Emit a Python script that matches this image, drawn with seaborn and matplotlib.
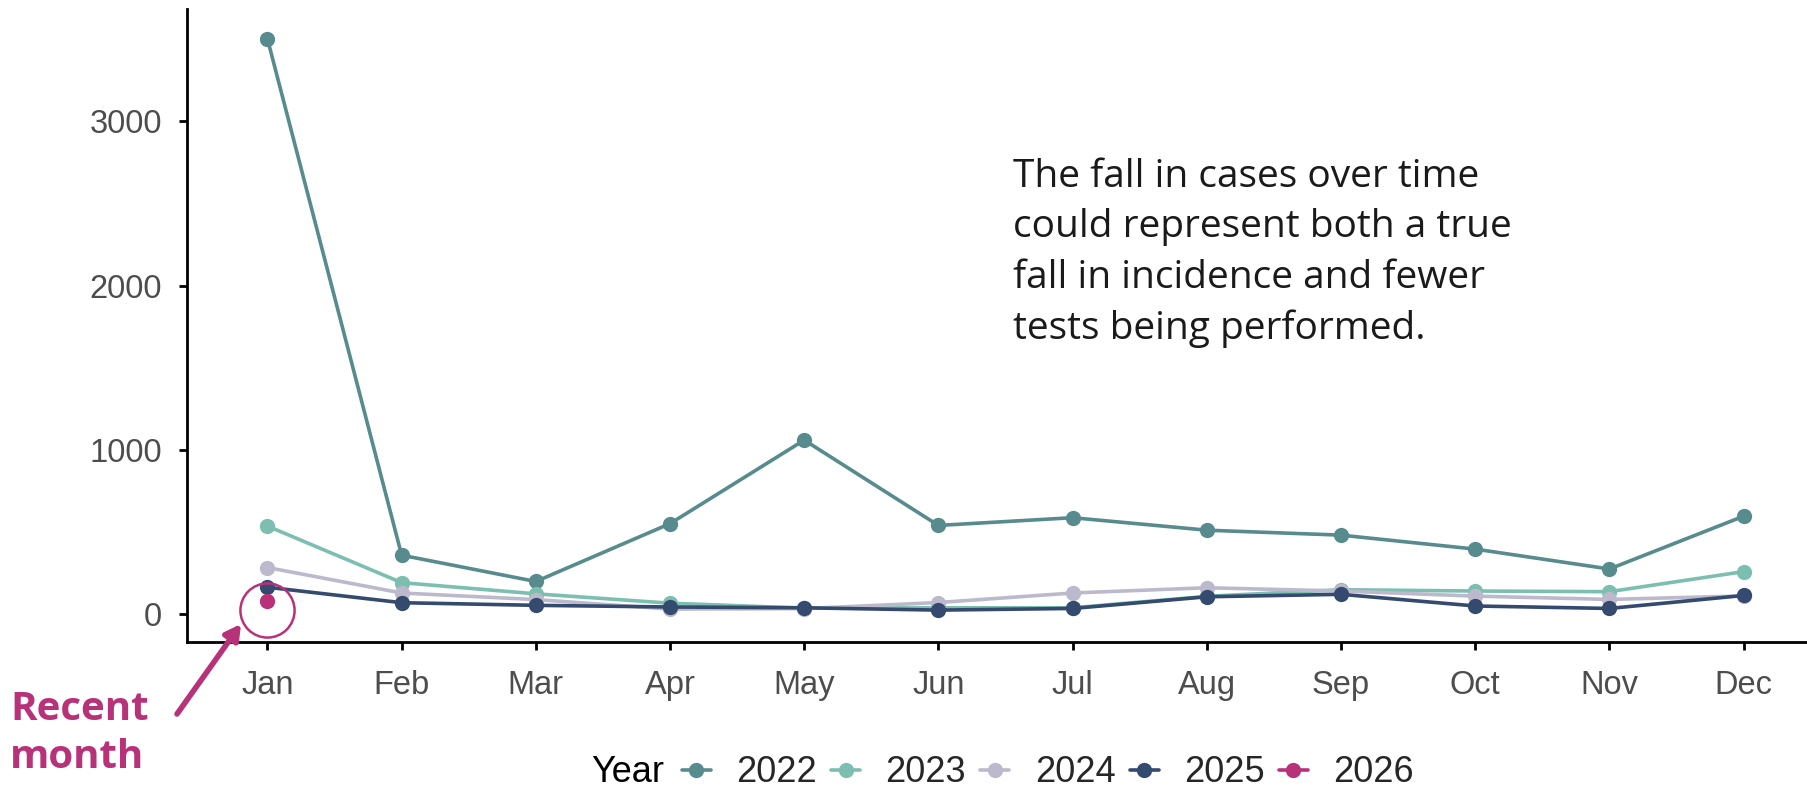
import matplotlib
matplotlib.use("Agg")
import matplotlib.pyplot as plt
import matplotlib.transforms as mtransforms
import seaborn as sns
import pandas as pd

# Monthly case counts
months = ['Jan', 'Feb', 'Mar', 'Apr', 'May', 'Jun', 'Jul', 'Aug', 'Sep', 'Oct', 'Nov', 'Dec']
cases_2022 = [3500, 360, 200, 552, 1060, 541, 588, 512, 482, 397, 276, 597]
cases_2023 = [537, 193, 125, 68, 38, 40, 40, 110, 150, 142, 138, 260]
cases_2024 = [285, 130, 90, 32, 35, 72, 130, 162, 142, 111, 91, 112]
cases_2025 = [165, 71, 55, 45, 40, 26, 36, 107, 122, 51, 36, 115]
cases_2026 = [80]

years = ['2022', '2023', '2024', '2025', '2026']
colours = ['#578b8d', '#7cbfb1', '#bdb9cd', '#344a6f', '#b8327a']
accent = '#b8327a'

series = [cases_2022, cases_2023, cases_2024, cases_2025, cases_2026]
rows = []
for year, vals in zip(years, series):
    for m, v in zip(months, vals):
        rows.append({'month': m, 'cases': v, 'Year': year})
df = pd.DataFrame(rows)
df['month'] = pd.Categorical(df['month'], categories=months, ordered=True)
df['pos'] = df['month'].cat.codes

sns.set_style('ticks')
plt.rcParams['font.family'] = ['Liberation Sans', 'DejaVu Sans']

fig = plt.figure(figsize=(18.08, 7.92), dpi=100)
ax = fig.add_axes([0.1034, 0.1894, 0.8966, 0.7992])

sns.lineplot(data=df, x='pos', y='cases', hue='Year', hue_order=years,
             palette=dict(zip(years, colours)), marker='o', markersize=11,
             markeredgewidth=0, linewidth=2.6, ax=ax, legend=False)

ax.set_xlim(-0.6, 11.48)
ax.set_ylim(-168, 3682)
ax.set_xticks(range(len(months)))
ax.set_xticklabels(months)
ax.set_yticks([0, 1000, 2000, 3000])
ax.set_xlabel('')
ax.set_ylabel('')
for side in ['top', 'right']:
    ax.spines[side].set_visible(False)
for side in ['left', 'bottom']:
    ax.spines[side].set_linewidth(2.0)
    ax.spines[side].set_color('black')
ax.tick_params(axis='both', length=6, width=2.0, color='black',
               labelsize=23.5, labelcolor='#4d4d4d')
ax.tick_params(axis='y', pad=12)
ax.tick_params(axis='x', pad=14)

# Circle around the most recent month
jan_pos = df.loc[df['Year'] == '2026', 'pos'].iloc[0]
jan_val = df.loc[df['Year'] == '2026', 'cases'].iloc[0]
shift = mtransforms.offset_copy(ax.transData, fig=fig, x=0, y=-6, units='points')
ax.plot([jan_pos], [jan_val], marker='o', markersize=39, fillstyle='none',
        markeredgecolor=accent, markeredgewidth=1.8, transform=shift, clip_on=False)

# Arrow and label
ax.annotate('', xy=(241 / 1808, 1 - 624 / 792), xycoords='figure fraction',
            xytext=(177 / 1808, 1 - 714 / 792), textcoords='figure fraction',
            arrowprops=dict(arrowstyle='-|>,head_length=0.9,head_width=0.5',
                            color=accent, lw=4, shrinkA=0, shrinkB=0))
fig.text(10 / 1808, 1 - 709 / 792, 'Recent', color=accent, fontsize=29,
         fontweight='bold', va='center', ha='left', family=['Open Sans', 'DejaVu Sans'])
fig.text(10 / 1808, 1 - 758 / 792, 'month', color=accent, fontsize=29,
         fontweight='bold', va='center', ha='left', family=['Open Sans', 'DejaVu Sans'])

# Commentary
note = ('The fall in cases over time\n'
        'could represent both a true\n'
        'fall in incidence and fewer\n'
        'tests being performed.')
fig.text(1013 / 1808, 1 - 158 / 792, note, color='#1a1a1a', fontsize=28,
         va='top', ha='left', linespacing=1.43, family=['Open Sans', 'DejaVu Sans'])

# Legend along the bottom
fig.text(591 / 1808, 1 - 773 / 792, 'Year', fontsize=26, va='center', ha='left',
         color='black')
handles = [plt.Line2D([], [], color=c, marker='o', markersize=11, markeredgewidth=0,
                      linewidth=2.6) for c in colours]
fig.legend(handles, years, loc='center left', bbox_to_anchor=(682 / 1808, 1 - 773 / 792),
           ncol=5, frameon=False, fontsize=26, handlelength=0.8, handletextpad=0.7,
           columnspacing=0.4, borderaxespad=0, borderpad=0)

fig.savefig('out.png', dpi=100)
